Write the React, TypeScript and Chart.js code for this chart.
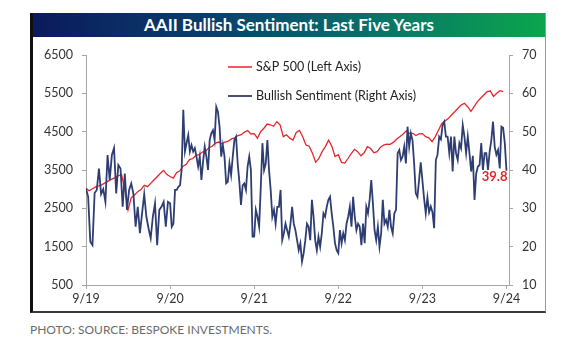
import { useEffect, useRef } from 'react';
import { Chart, registerables } from 'chart.js';

Chart.register(...registerables);

const titleText = 'AAII Bullish Sentiment: Last Five Years';
const captionText = 'PHOTO: SOURCE: BESPOKE INVESTMENTS.';
const xLabels = ['9/19', '9/20', '9/21', '9/22', '9/23', '9/24'];
const spLabel = 'S&P 500 (Left Axis)';
const bullLabel = 'Bullish Sentiment (Right Axis)';

// S&P 500, one array per year (9/19-9/20, ..., 9/23-9/24)
const sp500Y1 = [3022, 2960, 3010, 3060, 3085, 3120, 3170, 3215, 3260, 3300, 3350, 3380, 2990, 2460, 2780, 2848, 2935, 2990, 3100, 3065, 3152, 3240, 3326, 3413, 3490, 3380];
const sp500Y2 = [3330, 3290, 3430, 3480, 3600, 3650, 3770, 3800, 3880, 3900, 3970, 3990, 4080, 4120, 4200, 4230, 4180, 4230, 4250, 4310, 4340, 4400, 4420, 4490, 4530, 4440];
const sp500Y3 = [4450, 4330, 4500, 4590, 4700, 4680, 4640, 4760, 4680, 4370, 4420, 4330, 4280, 4480, 4530, 4370, 4150, 4120, 3940, 3700, 3800, 3980, 4110, 4280, 4120, 3850];
const sp500Y4 = [3900, 3700, 3680, 3800, 3930, 4040, 3980, 3870, 3950, 4110, 4060, 3950, 3980, 4090, 4150, 4175, 4170, 4220, 4300, 4370, 4435, 4520, 4457, 4457, 4400, 4440];
const sp500Y5 = [4450, 4370, 4340, 4240, 4370, 4544, 4717, 4780, 4840, 4935, 5020, 5110, 5195, 5239, 5150, 5030, 5152, 5283, 5370, 5457, 5543, 5560, 5420, 5500, 5570, 5543];

// AAII bullish sentiment (%), one array per year
const bullY1 = [35.2, 33, 21.3, 20.4, 34, 34.8, 40.4, 33.7, 35, 31.7, 43.9, 37.4, 43.9, 45.7, 33.9, 41.3, 40.4, 30.4, 39.1, 29.6, 34.8, 36.5, 33.7, 25.2, 30.4, 23.5, 28.7, 33.7, 27.8, 24.8, 22.2, 27.8, 31.3, 20.4, 29.6, 30.4, 31.7, 25.2, 31.7];
const bullY2 = [31.3, 25.2, 26, 34.8, 34.8, 35.6, 36, 40, 55.7, 44.8, 47, 49.1, 44.8, 46.5, 44.8, 45.7, 43.5, 40.9, 43.5, 37.4, 42.2, 46.1, 43.5, 40, 47.8, 49.6, 50.4, 47.8, 56.5, 55.2, 51.3, 43.5, 46.5, 43.5, 36.5, 36.9, 41.7, 38.7, 43.5, 47.8, 48.7, 41.7, 36.9, 30.9, 36, 36.5, 34.8, 40.9, 43.5, 40, 22.6];
const bullY3 = [22.6, 29.6, 27.8, 25.2, 35.6, 47, 40, 41.7, 47.8, 40, 34.8, 27.8, 29.6, 26, 30.4, 30.4, 34.8, 21.7, 23.5, 26, 24.3, 22.6, 26, 30.4, 26, 24.3, 21.7, 19.1, 20.9, 16.1, 18.3, 21.7, 26, 25.2, 21.7, 32.2, 27.8, 21.7, 19.1, 22.6, 20, 23.5, 28.7, 27.8, 30.4, 32.2, 33, 28.7, 25.2, 20.9, 19.1];
const bullY4 = [18.3, 24.3, 20.9, 23.5, 21.7, 26, 27.8, 30.4, 25.2, 33, 27.8, 24.3, 26, 25.2, 20.4, 26, 20.9, 30.4, 28.7, 32.2, 37.4, 31.3, 24.3, 21.7, 25.2, 20, 23.5, 32.2, 26, 27, 25.2, 29.6, 25.2, 23.5, 28.7, 29.6, 44.4, 45.2, 42.6, 43.5, 46.1, 41.7, 51.3, 46.1, 49.6, 47.8, 41.7, 33.9, 33, 37.4, 42];
const bullY5 = [37.4, 32.6, 28.7, 32.8, 29, 30.5, 29, 24.8, 42.6, 44, 48.7, 48, 51.7, 52.6, 48.7, 48.7, 44.4, 48.7, 39.6, 48.7, 44.4, 42.6, 47, 45.7, 51.7, 48.7, 44.4, 48.7, 44.4, 39.6, 43.7, 32.2, 39.1, 40.9, 41.3, 47, 40, 44.4, 44.4, 40, 44.8, 47.8, 52.6, 46.1, 44, 45.2, 40.4, 51.3, 51, 47, 39.8];

const sp500Years = [sp500Y1, sp500Y2, sp500Y3, sp500Y4, sp500Y5];
const bullYears = [bullY1, bullY2, bullY3, bullY4, bullY5];

const RED = '#e3262b';
const BLUE = '#2f3e72';
const FONT = 'Lato, "Open Sans", sans-serif';

function toPoints(years: number[][], lastEndsOnTick: boolean) {
  const pts: { x: number; y: number }[] = [];
  years.forEach((vals, k) => {
    const isLast = k === years.length - 1;
    const n = isLast && lastEndsOnTick ? vals.length - 1 : vals.length;
    vals.forEach((v, i) => pts.push({ x: k + i / n, y: v }));
  });
  return pts;
}

const overlayPlugin = {
  id: 'overlay',
  afterDatasetsDraw(chart: any) {
    const { ctx, chartArea } = chart;
    const l = chartArea.left;
    const t = chartArea.top;
    ctx.save();
    const items = [
      { label: spLabel, color: RED, dy: 12, w: 1.5 },
      { label: bullLabel, color: BLUE, dy: 41, w: 1.8 },
    ];
    ctx.font = `12.5px ${FONT}`;
    ctx.textBaseline = 'middle';
    ctx.textAlign = 'left';
    items.forEach((it) => {
      ctx.strokeStyle = it.color;
      ctx.lineWidth = it.w;
      ctx.beginPath();
      ctx.moveTo(l + 142, t + it.dy);
      ctx.lineTo(l + 166, t + it.dy);
      ctx.stroke();
      ctx.fillStyle = '#222';
      ctx.fillText(it.label, l + 170, t + it.dy);
    });
    const meta = chart.getDatasetMeta(1);
    const lastPt = meta.data[meta.data.length - 1];
    const lastVal = bullY5[bullY5.length - 1];
    ctx.font = `bold 13px ${FONT}`;
    ctx.fillStyle = RED;
    ctx.textAlign = 'right';
    ctx.fillText(lastVal.toFixed(1), lastPt.x + 1, lastPt.y + 6.5);
    ctx.restore();
  },
};

export default function App() {
  const canvasRef = useRef<HTMLCanvasElement | null>(null);

  useEffect(() => {
    if (!canvasRef.current) return;
    Chart.defaults.font.family = FONT;
    const tickFont = { family: FONT, size: 12.5 };
    const axisColor = '#a6a6a6';
    const chart = new Chart(canvasRef.current, {
      type: 'line',
      data: {
        datasets: [
          {
            label: spLabel,
            data: toPoints(sp500Years, false),
            yAxisID: 'y',
            borderColor: RED,
            borderWidth: 1.3,
            pointRadius: 0,
            tension: 0,
            order: 1,
          },
          {
            label: bullLabel,
            data: toPoints(bullYears, true),
            yAxisID: 'y1',
            borderColor: BLUE,
            borderWidth: 1.8,
            pointRadius: 0,
            tension: 0,
            order: 0,
          },
        ],
      },
      options: {
        animation: false,
        responsive: false,
        devicePixelRatio: 1,
        layout: { padding: { top: 18, left: 0, right: 0, bottom: 0 } },
        plugins: { legend: { display: false }, tooltip: { enabled: false } },
        scales: {
          x: {
            type: 'linear',
            min: 0,
            max: 5.03,
            border: { color: axisColor, width: 1 },
            grid: { display: true, drawOnChartArea: false, drawTicks: true, tickLength: 4, color: axisColor },
            afterBuildTicks: (s: any) => {
              s.ticks = xLabels.map((_, i) => ({ value: i }));
            },
            afterFit: (s: any) => {
              s.height = 26;
            },
            ticks: {
              font: tickFont,
              color: '#333',
              padding: 2,
              maxRotation: 0,
              autoSkip: false,
              callback: (v: any) => xLabels[Math.round(Number(v))] ?? '',
            },
          },
          y: {
            type: 'linear',
            position: 'left',
            min: 500,
            max: 6500,
            border: { color: axisColor, width: 1 },
            grid: { display: true, drawOnChartArea: false, drawTicks: true, tickLength: 4, color: axisColor },
            afterFit: (s: any) => {
              s.width = 53;
            },
            ticks: { stepSize: 1000, font: tickFont, color: '#333', padding: 9, callback: (v: any) => String(v) },
          },
          y1: {
            type: 'linear',
            position: 'right',
            min: 10,
            max: 70,
            border: { color: axisColor, width: 1 },
            grid: { display: true, drawOnChartArea: false, drawTicks: true, tickLength: 4, color: axisColor },
            afterFit: (s: any) => {
              s.width = 36;
            },
            ticks: { stepSize: 10, font: tickFont, color: '#333', padding: 9, callback: (v: any) => String(v) },
          },
        },
      },
      plugins: [overlayPlugin],
    } as any);
    return () => chart.destroy();
  }, []);

  return (
    <div style={{ position: 'relative', width: 556, height: 335, fontFamily: FONT }}>
      <div
        style={{
          position: 'absolute',
          left: 22,
          top: 5,
          width: 516,
          height: 300,
          boxSizing: 'border-box',
          borderLeft: '3px solid #111',
          borderRight: '1px solid #9a9a9a',
          borderBottom: '2px solid #3a3a3a',
          background: '#fff',
        }}
      >
        <div
          style={{
            height: 24,
            lineHeight: '24px',
            textAlign: 'center',
            color: '#fff',
            fontWeight: 700,
            fontSize: 17,
            background: 'linear-gradient(90deg, #0b1a5c 0%, #0a3f6c 35%, #08706a 65%, #0ba64c 100%)',
          }}
        >
          {titleText}
        </div>
        <canvas ref={canvasRef} width={512} height={274} style={{ display: 'block', width: 512, height: 274 }} />
      </div>
      <div
        style={{
          position: 'absolute',
          left: 22,
          top: 315,
          fontSize: 12,
          lineHeight: '14px',
          color: '#6b6b6b',
          whiteSpace: 'nowrap',
        }}
      >
        {captionText}
      </div>
    </div>
  );
}
